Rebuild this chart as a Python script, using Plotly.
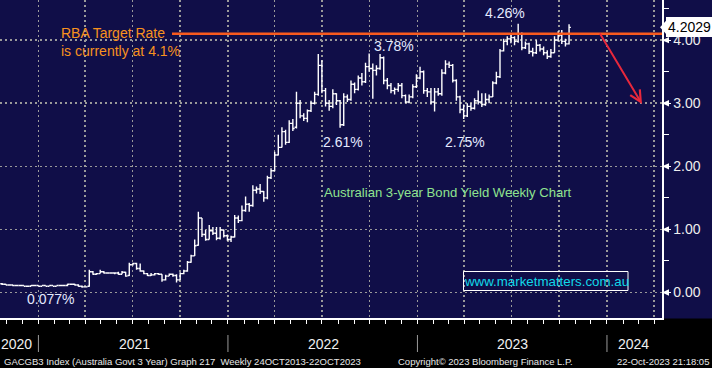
import plotly.graph_objects as go
import pandas as pd

# ---------------- data (weekly OHLC, %) ----------------
week_start = "2020-10-23"
n_weeks = 157
opens = [0.14,0.13,0.12,0.12,0.11,0.11,0.11,0.10,0.10,0.11,0.11,0.10,0.11,0.10,0.11,0.10,0.11,0.11,0.11,0.13,
         0.13,0.12,0.10,0.09,0.10,0.33,0.29,0.30,0.33,0.31,0.31,0.31,0.31,0.29,0.32,0.27,0.44,0.46,0.38,0.34,
         0.30,0.27,0.28,0.30,0.29,0.20,0.26,0.29,0.27,0.20,0.30,0.34,0.48,0.58,0.75,1.18,0.92,0.84,0.98,0.94,
         0.86,0.99,0.90,0.84,0.88,1.18,1.14,1.30,1.40,1.38,1.62,1.64,1.60,1.50,1.82,1.93,2.18,2.30,2.55,2.38,
         2.68,2.62,3.00,2.80,2.76,2.88,3.00,3.14,3.60,3.20,3.00,2.95,3.15,3.04,2.66,3.10,3.06,3.30,3.22,3.40,
         3.34,3.58,3.55,3.52,3.55,3.72,3.36,3.28,3.20,3.22,3.28,3.12,3.02,3.10,3.26,3.40,3.50,3.20,3.18,3.02,
         3.18,3.15,3.48,3.62,3.60,3.36,3.10,2.90,2.80,2.95,2.92,3.04,3.02,2.98,3.06,3.10,3.32,3.42,3.83,3.98,
         4.02,4.04,3.98,4.10,3.88,3.94,3.82,3.80,3.92,3.86,3.80,3.74,3.80,4.00,4.08,3.98,3.94]
highs = [0.15,0.14,0.13,0.12,0.12,0.12,0.11,0.11,0.12,0.11,0.11,0.11,0.11,0.11,0.11,0.11,0.11,0.12,0.14,0.14,
         0.14,0.13,0.11,0.10,0.36,0.34,0.31,0.36,0.34,0.32,0.32,0.32,0.33,0.34,0.33,0.47,0.47,0.47,0.46,0.35,
         0.31,0.31,0.31,0.31,0.29,0.28,0.30,0.30,0.29,0.32,0.36,0.50,0.60,0.84,1.28,1.18,0.99,1.07,1.04,1.04,
         1.04,1.00,0.92,0.90,1.23,1.22,1.38,1.52,1.42,1.70,1.68,1.72,1.61,1.85,1.97,2.23,2.50,2.62,2.58,2.73,
         2.75,3.18,3.05,2.84,2.90,3.04,3.18,3.78,3.68,3.24,3.05,3.22,3.16,3.05,3.16,3.14,3.36,3.33,3.44,3.48,
         3.64,3.79,3.63,3.60,3.78,3.74,3.40,3.32,3.25,3.32,3.32,3.14,3.14,3.30,3.46,3.58,3.52,3.24,3.24,3.24,
         3.24,3.54,3.68,3.66,3.62,3.38,3.12,2.98,3.00,3.00,3.08,3.20,3.16,3.16,3.14,3.35,3.50,3.86,4.02,4.06,
         4.08,4.06,4.26,4.12,3.98,3.96,3.88,4.00,3.94,3.90,3.84,3.86,4.06,4.14,4.16,4.02,4.25]
lows = [0.12,0.12,0.11,0.10,0.10,0.10,0.10,0.10,0.10,0.10,0.10,0.10,0.10,0.10,0.10,0.10,0.10,0.10,0.10,0.12,
        0.11,0.09,0.077,0.08,0.09,0.28,0.28,0.30,0.30,0.30,0.30,0.29,0.28,0.29,0.25,0.26,0.43,0.36,0.33,0.29,
        0.26,0.26,0.27,0.28,0.17,0.19,0.26,0.25,0.16,0.20,0.29,0.33,0.47,0.58,0.74,0.88,0.82,0.84,0.91,0.83,
        0.84,0.87,0.82,0.80,0.87,1.10,1.13,1.28,1.28,1.36,1.57,1.56,1.44,1.48,1.80,1.92,2.17,2.30,2.34,2.37,
        2.56,2.60,2.76,2.72,2.70,2.86,2.98,3.12,3.16,2.95,2.88,2.92,2.97,2.61,2.64,3.02,3.04,3.16,3.20,3.28,
        3.32,3.50,3.07,3.44,3.53,3.30,3.22,3.16,3.14,3.18,3.08,3.00,3.00,3.08,3.24,3.38,3.15,3.10,2.98,2.87,
        3.12,3.12,3.46,3.56,3.33,3.04,2.84,2.75,2.78,2.88,2.90,2.98,2.94,2.96,3.00,3.10,3.30,3.40,3.82,3.92,
        3.95,3.92,3.96,3.84,3.86,3.78,3.74,3.78,3.82,3.76,3.70,3.72,3.80,3.98,3.94,3.90,3.93]
closes = [0.13,0.12,0.12,0.11,0.11,0.11,0.10,0.10,0.11,0.11,0.10,0.11,0.10,0.11,0.10,0.11,0.11,0.11,0.13,0.13,
          0.12,0.10,0.09,0.09,0.33,0.29,0.30,0.33,0.31,0.31,0.31,0.31,0.29,0.32,0.26,0.44,0.46,0.38,0.34,0.30,
          0.27,0.28,0.30,0.29,0.20,0.26,0.29,0.27,0.20,0.30,0.34,0.48,0.58,0.74,1.18,0.92,0.84,0.98,0.94,0.86,
          0.99,0.90,0.84,0.88,1.18,1.14,1.30,1.40,1.38,1.62,1.64,1.60,1.50,1.82,1.93,2.18,2.30,2.55,2.38,2.68,
          2.60,3.00,2.80,2.76,2.88,3.00,3.14,3.60,3.20,3.00,2.95,3.15,3.04,2.66,3.10,3.06,3.30,3.22,3.40,3.34,
          3.58,3.55,3.52,3.55,3.72,3.36,3.28,3.20,3.22,3.28,3.12,3.02,3.10,3.26,3.40,3.50,3.20,3.18,3.02,3.18,
          3.15,3.48,3.62,3.60,3.36,3.10,2.90,2.80,2.95,2.92,3.04,3.02,2.98,3.06,3.10,3.32,3.42,3.83,3.98,4.02,
          4.04,3.98,4.10,3.88,3.94,3.82,3.80,3.92,3.86,3.80,3.74,3.80,4.00,4.08,3.98,3.94,4.2029]

rba_rate = 4.1
y_ticks = [0, 1, 2, 3, 4]
year_labels = ["2020", "2021", "2022", "2023", "2024"]
peak_labels = ["4.26%", "3.78%", "2.61%", "2.75%", "0.077%"]

weeks = pd.date_range(week_start, periods=n_weeks, freq="7D")

# ---------------- style ----------------
NAVY = "#100e48"
W, H = 712, 368
PW, PH = 662, 318  # plot area in pixels
FONT = "Arial, Liberation Sans, sans-serif"


def px(x):
    return x / PW


def py(y):
    return 1 - y / PH


fig = go.Figure()
fig.add_trace(go.Ohlc(
    x=weeks, open=opens, high=highs, low=lows, close=closes,
    increasing=dict(line=dict(color="white", width=1.4)),
    decreasing=dict(line=dict(color="white", width=1.4)),
    tickwidth=0.5, showlegend=False, hoverinfo="skip",
))

ann = []
# peak / trough labels
lab_pos = [(505, 13), (394, 46), (343, 142), (465, 142), (50, 299)]
for t, (x, y) in zip(peak_labels, lab_pos):
    ann.append(dict(text=t, x=px(x), y=py(y), xref="paper", yref="paper", showarrow=False,
                    xanchor="center", yanchor="middle",
                    font=dict(family=FONT, size=14, color="#e4eaff")))
ann.append(dict(text="RBA Target Rate<br>is currently at 4.1%", x=px(59), y=py(41.5),
                xref="paper", yref="paper", showarrow=False, align="left",
                xanchor="left", yanchor="middle",
                font=dict(family=FONT, size=14, color="#f7921e")))
ann.append(dict(text="Australian 3-year Bond Yield Weekly Chart", x=px(448), y=py(192),
                xref="paper", yref="paper", showarrow=False, xanchor="center", yanchor="middle",
                font=dict(family=FONT, size=13.1, color="#8fe38f")))
ann.append(dict(text="www.marketmatters.com.au", x=px(546), y=py(281), xref="paper", yref="paper",
                showarrow=False, xanchor="center", yanchor="middle",
                font=dict(family=FONT, size=13.3, color="#12d8e8")))
# red arrow
ann.append(dict(text="", x=px(642), y=py(104), xref="paper", yref="paper",
                ax=-43, ay=-72, axref="pixel", ayref="pixel", showarrow=True,
                arrowhead=5, arrowsize=1.1, arrowwidth=2, arrowcolor="#e8283c"))
# last price callout
ann.append(dict(text=f"{closes[-1]:.4f}", x=px(666), y=closes[-1], xref="paper", yref="y",
                showarrow=False, xanchor="left", yanchor="middle", bgcolor="white",
                bordercolor="white", borderpad=1,
                font=dict(family=FONT, size=14, color="black")))
# year labels below axis
year_x = [16, 134, 323, 512, 633]
for t, x in zip(year_labels, year_x):
    ann.append(dict(text=t, x=px(x), y=py(344), xref="paper", yref="paper", showarrow=False,
                    xanchor="center", yanchor="middle",
                    font=dict(family=FONT, size=14, color="#f0f0f0")))
# footer
foot = [("GACGB3 Index (Australia Govt 3 Year) Graph 217  Weekly 24OCT2013-22OCT2023", 2),
        ("Copyright\u00a9 2023 Bloomberg Finance L.P.", 396),
        ("22-Oct-2023 21:18:05", 615)]
for t, x in foot:
    ann.append(dict(text=t, x=px(x), y=py(361), xref="paper", yref="paper", showarrow=False,
                    xanchor="left", yanchor="middle",
                    font=dict(family=FONT, size=9.5, color="#e8e8e8")))

shapes = [
    # black band under the plot
    dict(type="rect", xref="paper", yref="paper", x0=-0.01, x1=1.09, y0=py(368), y1=py(318.5),
         fillcolor="black", line=dict(width=0), layer="below"),
    # RBA rate line
    dict(type="line", xref="paper", yref="y", x0=px(172), x1=1, y0=rba_rate, y1=rba_rate,
         line=dict(color="#f85a1e", width=2.5)),
    # URL box
    dict(type="rect", xref="paper", yref="paper", x0=px(463.5), x1=px(628), y0=py(290.5), y1=py(271.5),
         line=dict(color="white", width=1)),
    # callout pointer
    dict(type="path", xref="paper", yref="y",
         path=f"M {px(660)},{closes[-1]} L {px(667)},{closes[-1] + 0.12} L {px(667)},{closes[-1] - 0.12} Z",
         fillcolor="white", line=dict(width=0)),
]
# year separators below axis
for d in ["2021-01-01", "2022-01-01", "2023-01-01", "2024-01-01"]:
    shapes.append(dict(type="line", xref="x", yref="paper", x0=d, x1=d, y0=py(335), y1=py(352),
                       line=dict(color="#9a9a9a", width=1)))
# small triangles at labelled y ticks
for v in y_ticks:
    shapes.append(dict(type="path", xref="paper", yref="y",
                       path=f"M {px(662)},{v} L {px(669)},{v + 0.05} L {px(669)},{v - 0.05} Z",
                       fillcolor="white", line=dict(width=0)))

fig.update_layout(
    width=W, height=H, margin=dict(l=0, r=W - PW, t=0, b=H - PH),
    paper_bgcolor=NAVY, plot_bgcolor=NAVY, showlegend=False,
    annotations=ann, shapes=shapes,
    xaxis=dict(type="date", range=["2020-10-19", "2024-04-16"], rangeslider=dict(visible=False),
               showgrid=True, gridcolor="#9a9a9a", griddash="2px,3px", gridwidth=1.5,
               dtick="M3", tick0="2021-01-01", ticks="outside", ticklen=4, tickcolor="white",
               showticklabels=False, showline=True, linecolor="white", linewidth=1.5,
               minor=dict(dtick="M1", ticks="outside", ticklen=4, tickcolor="white", showgrid=False),
               zeroline=False, fixedrange=True),
    yaxis=dict(side="right", range=[-0.404, 4.636], tickvals=y_ticks, tickformat=".2f",
               showgrid=True, gridcolor="#9a9a9a", griddash="2px,3px", gridwidth=1.5,
               ticks="outside", ticklen=7, tickcolor="white", showline=True, linecolor="white",
               linewidth=1.5, zeroline=False, fixedrange=True,
               tickfont=dict(family=FONT, size=14, color="#eeeeee"),
               minor=dict(dtick=0.5, ticks="outside", ticklen=5, tickcolor="white", showgrid=False)),
)

fig.write_html("out.html", config={"displayModeBar": False, "staticPlot": True},
               post_script="document.body.style.margin='0';document.body.style.overflow='hidden';")
